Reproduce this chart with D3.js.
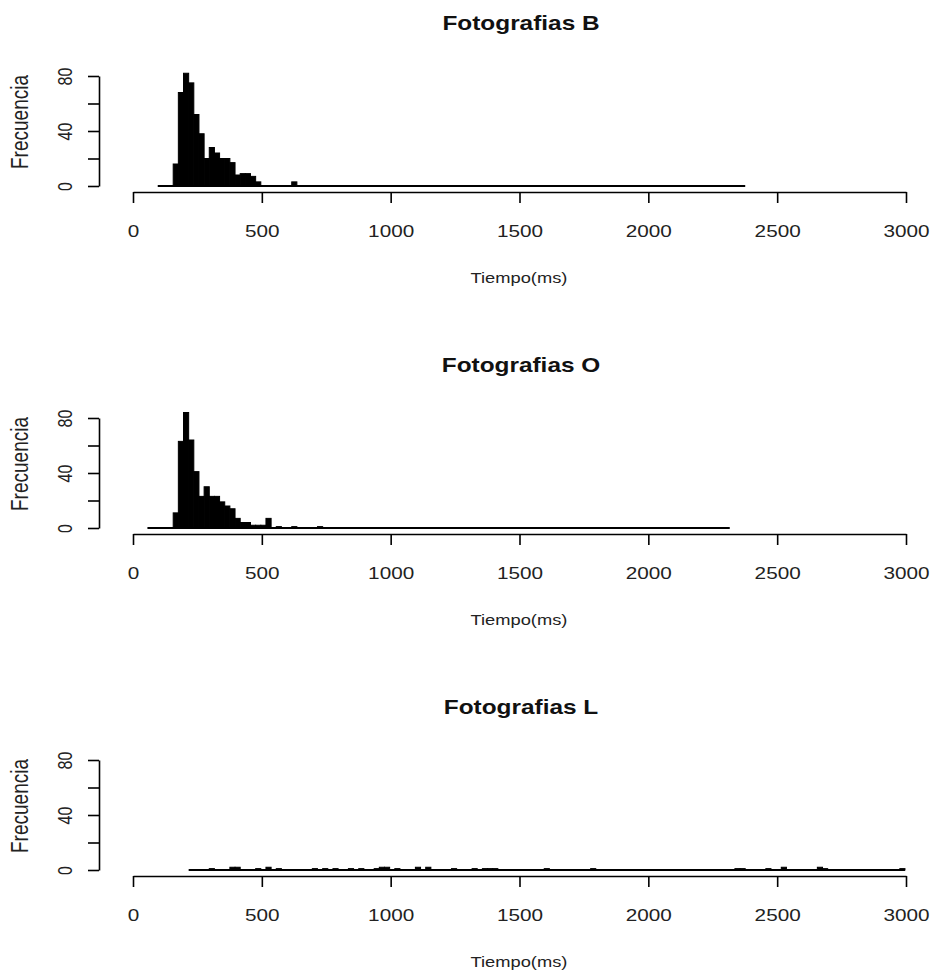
<!DOCTYPE html>
<html>
<head>
<meta charset="utf-8">
<script src="https://cdn.jsdelivr.net/npm/d3@7"></script>
<style>
  body { margin: 0; background: #fff; }
  svg { display: block; font-family: "Liberation Sans", Arial, sans-serif; }
</style>
</head>
<body>
<svg id="chart"></svg>
<script>
// titles and tick labels
const titles = ["Fotografias B", "Fotografias O", "Fotografias L"];
const xLabel = "Tiempo(ms)";
const yLabel = "Frecuencia";
const xTicks = [0, 500, 1000, 1500, 2000, 2500, 3000];
const yTicks = [0, 20, 40, 60, 80];
const yTickLabels = [0, 40, 80];
const binWidth = 20;

// Fotografias B : breaks range + non empty bins (bin start, count)
const rangeB = [96, 2376];
const binStartB = [156, 176, 196, 216, 236, 256, 276, 296, 316, 336, 356, 376, 396, 416, 436, 456, 476, 616];
const countsB   = [16, 68, 82, 75, 52, 38, 20, 28, 24, 20, 20, 17, 8, 9, 9, 7, 3, 3];

// Fotografias O
const rangeO = [56, 2316];
const binStartO = [156, 176, 196, 216, 236, 256, 276, 296, 316, 336, 356, 376, 396, 416, 436, 456, 476, 496, 516, 556, 616, 716];
const countsO   = [11, 63, 84, 64, 41, 23, 30, 23, 23, 19, 16, 14, 7, 4, 4, 2, 2, 2, 7, 1, 1, 1];

// Fotografias L
const rangeL = [216, 2996];
const binStartL = [296, 376, 396, 476, 516, 556, 696, 736, 776, 836, 876, 936, 956, 976, 1016, 1096, 1136, 1236, 1316, 1356, 1376, 1396, 1596, 1776, 2336, 2356, 2456, 2516, 2656, 2676, 2976];
const countsL   = [1, 2, 2, 1, 2, 1, 1, 1, 1, 1, 1, 1, 2, 2, 1, 2, 2, 1, 1, 1, 1, 1, 1, 1, 1, 1, 1, 2, 2, 1, 1];

const panels = [
  {title: titles[0], range: rangeB, starts: binStartB, counts: countsB},
  {title: titles[1], range: rangeO, starts: binStartO, counts: countsO},
  {title: titles[2], range: rangeL, starts: binStartL, counts: countsL}
];

const width = 932, height = 978;
const PANEL_STEP = 342;
const SX = 1.22; // text in the picture is stretched horizontally

const svg = d3.select("#chart")
  .attr("width", width)
  .attr("height", height);

const x = d3.scaleLinear().domain([0, 3000]).range([133, 906]);
const y = d3.scaleLinear().domain([0, 80]).range([186, 76]);

function drawHistogram(p, i) {
  const g = svg.append("g").attr("transform", `translate(0,${i * PANEL_STEP})`);

  // title
  g.append("text")
    .attr("transform", `translate(521,30) scale(${SX},1)`)
    .attr("text-anchor", "middle")
    .style("font-size", "20px")
    .style("font-weight", "bold")
    .attr("fill", "#111")
    .text(p.title);

  // zero-count bins show as a flat line over the whole breaks range
  g.append("line")
    .attr("x1", x(p.range[0]))
    .attr("x2", x(p.range[1]))
    .attr("y1", y(0))
    .attr("y2", y(0))
    .attr("stroke", "#000")
    .attr("stroke-width", 1.8);

  const bins = p.starts.map((s, k) => ({start: s, count: p.counts[k]}));

  g.selectAll("rect.bar")
    .data(bins)
    .join("rect")
    .attr("class", "bar")
    .attr("x", d => x(d.start))
    .attr("width", d => x(d.start + binWidth) - x(d.start))
    .attr("y", d => y(d.count))
    .attr("height", d => y(0) - y(d.count))
    .attr("fill", "#000")
    .attr("stroke", "#000")
    .attr("stroke-width", 1);

  // x axis
  const xAxis = g.append("g")
    .attr("transform", "translate(0,192)")
    .call(d3.axisBottom(x).tickValues(xTicks).tickSize(11).tickSizeOuter(0).tickFormat(d3.format("d")));
  xAxis.select(".domain").attr("stroke-width", 1.6);
  xAxis.selectAll(".tick line").attr("stroke-width", 1.6);
  xAxis.selectAll(".tick text")
    .attr("y", null)
    .attr("dy", null)
    .attr("transform", `translate(0,45) scale(${SX},1)`)
    .attr("fill", "#222")
    .style("font-size", "17px")
    .style("font-family", "Liberation Sans, Arial, sans-serif");

  // y axis
  const yAxis = g.append("g")
    .attr("transform", "translate(99,0)")
    .call(d3.axisLeft(y).tickValues(yTicks).tickSize(11).tickSizeOuter(0)
      .tickFormat(d => yTickLabels.includes(d) ? d : ""));
  yAxis.select(".domain").attr("stroke-width", 1.6);
  yAxis.selectAll(".tick line").attr("stroke-width", 1.6);
  yAxis.selectAll(".tick text")
    .attr("x", null)
    .attr("dy", null)
    .attr("text-anchor", "middle")
    .attr("transform", `translate(-27,0) scale(${SX},1) rotate(-90)`)
    .attr("fill", "#222")
    .style("font-size", "16px")
    .style("font-family", "Liberation Sans, Arial, sans-serif");

  // axis titles
  g.append("text")
    .attr("transform", `translate(519,283) scale(${SX},1)`)
    .attr("text-anchor", "middle")
    .style("font-size", "15px")
    .attr("fill", "#222")
    .text(xLabel);

  g.append("text")
    .attr("transform", `translate(28,122) scale(${SX},1) rotate(-90)`)
    .attr("text-anchor", "middle")
    .style("font-size", "19px")
    .attr("fill", "#222")
    .text(yLabel);
}

panels.forEach(drawHistogram);
</script>
</body>
</html>
